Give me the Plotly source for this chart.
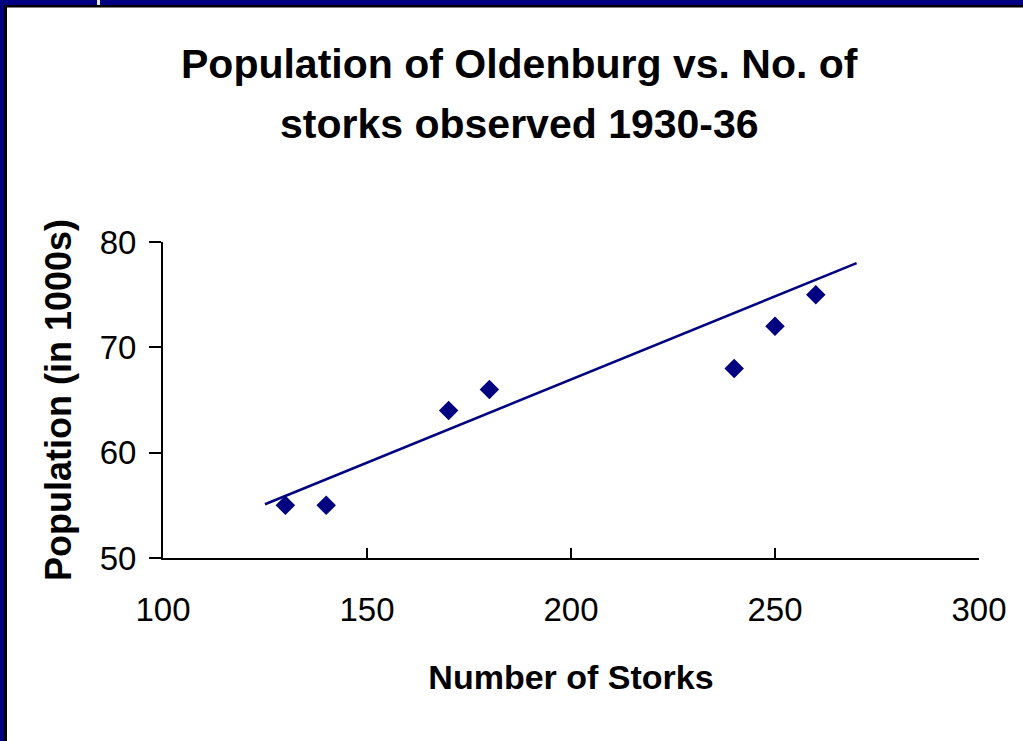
import plotly.graph_objects as go

# ---- data ----
storks = [130, 140, 170, 180, 240, 250, 260]
population = [55, 55, 64, 66, 68, 72, 75]
trend_x = [125, 270]
trend_y = [55.1, 78.0]
x_ticks = [100, 150, 200, 250, 300]
y_ticks = [50, 60, 70, 80]
title_lines = ["Population of Oldenburg vs. No. of", "storks observed 1930-36"]
x_title = "Number of Storks"
y_title = "Population (in 1000s)"

W, H = 1023, 741
L, R, T, B = 163, 979, 242, 558   # plot area in pixels
NAVY = "#000080"
FONT = "Liberation Sans, Arial, sans-serif"


def px2x(px):
    return (px - L) / (R - L)


def py2y(py):
    return (B - py) / (B - T)


fig = go.Figure()
fig.add_trace(go.Scatter(x=trend_x, y=trend_y, mode="lines",
                         line=dict(color=NAVY, width=2.5), hoverinfo="skip",
                         showlegend=False))
fig.add_trace(go.Scatter(x=storks, y=population, mode="markers",
                         marker=dict(symbol="diamond", size=15, color=NAVY,
                                     line=dict(width=0)),
                         showlegend=False))

fig.update_layout(
    width=W, height=H,
    margin=dict(l=L, r=W - R, t=T, b=H - B, pad=0),
    paper_bgcolor="white", plot_bgcolor="white",
    font=dict(family=FONT, color="black"),
    showlegend=False,
)

fig.update_xaxes(
    range=[100, 300], tickvals=x_ticks, ticktext=[str(v) for v in x_ticks],
    showgrid=False, zeroline=False, showline=True, linecolor="black", linewidth=2,
    ticks="inside", ticklen=10, tickwidth=2, tickcolor="black",
    tickfont=dict(size=33, family=FONT, color="black"),
    ticklabelstandoff=21,
    title=dict(text=f"<b>{x_title}</b>", font=dict(size=34, family=FONT, color="black"),
               standoff=39),
    automargin=False, fixedrange=True,
)
fig.update_yaxes(
    range=[50, 80], tickvals=y_ticks, ticktext=[str(v) for v in y_ticks],
    showgrid=False, zeroline=False, showline=True, linecolor="black", linewidth=2,
    ticks="outside", ticklen=12, tickwidth=2, tickcolor="black",
    tickfont=dict(size=33, family=FONT, color="black"),
    ticklabelstandoff=6,
    title=dict(text=f"<b>{y_title}</b>", font=dict(size=36, family=FONT, color="black"),
               standoff=17),
    automargin=False, fixedrange=True,
)

# title as two centered lines
for line, cy in zip(title_lines, [64, 124]):
    fig.add_annotation(text=f"<b>{line}</b>", xref="paper", yref="paper",
                       x=px2x(519), y=py2y(cy), xanchor="center", yanchor="middle",
                       showarrow=False, font=dict(size=41, family=FONT, color="black"))

# slide frame: navy band on top and left with thin black inner line
shapes = [
    dict(x0=px2x(0), x1=px2x(W + 5), y0=py2y(-5), y1=py2y(5), fillcolor=NAVY),
    dict(x0=px2x(-5), x1=px2x(4), y0=py2y(-5), y1=py2y(H + 5), fillcolor=NAVY),
    dict(x0=px2x(4), x1=px2x(W + 5), y0=py2y(5), y1=py2y(7.5), fillcolor="black"),
    dict(x0=px2x(4), x1=px2x(7), y0=py2y(5), y1=py2y(H + 5), fillcolor="black"),
    dict(x0=px2x(97), x1=px2x(100), y0=py2y(-5), y1=py2y(5), fillcolor="#e8e8e0"),
]
for s in shapes:
    fig.add_shape(type="rect", xref="paper", yref="paper", line=dict(width=0),
                  layer="above", **s)

fig.write_html("out.html",
               config={"displayModeBar": False},
               post_script="document.body.style.margin='0';document.body.style.overflow='hidden';")
